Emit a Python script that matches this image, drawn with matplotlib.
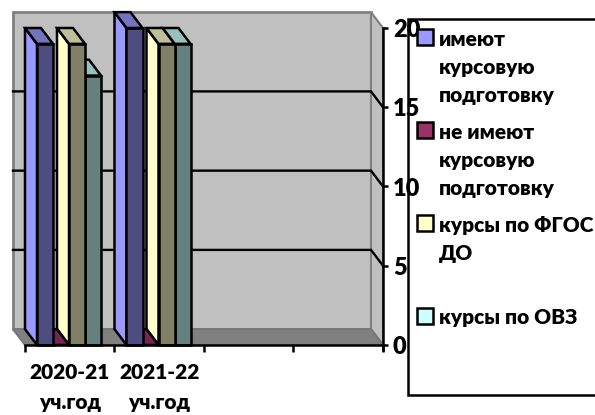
import matplotlib
matplotlib.use("Agg")
import matplotlib.pyplot as plt
from matplotlib.patches import Polygon, Rectangle

categories = ["2020-21\nуч.год", "2021-22\nуч.год"]
series_names = ["имеют\nкурсовую\nподготовку", "не имеют\nкурсовую\nподготовку",
                "курсы по ФГОС\nДО", "курсы по ОВЗ"]
has_training = [19, 20]
no_training = [0, 0]
fgos = [19, 19]
ovz = [17, 19]
series = [has_training, no_training, fgos, ovz]
yticks = [0, 5, 10, 15, 20]
left_c = ["#9999FF", "#993366", "#FFFFCC", "#CCFFFF"]
top_c = ["#7373BF", "#732650", "#BFBF99", "#99BFBF"]
front_c = ["#4D4D80", "#4D1A33", "#808066", "#668080"]

plt.rcParams["font.family"] = ["Lato", "DejaVu Sans"]
plt.rcParams["font.weight"] = "heavy"
W, H = 595, 415
fig = plt.figure(figsize=(W / 100, H / 100), dpi=100)
ax = fig.add_axes([25 / W, (H - 345) / H, 358 / W, 317 / H])
ax.patch.set_alpha(0)
ax.set_xlim(0, 4)
ax.set_ylim(0, 20)
DX = -12 / 89.5
DY = 1.0
LW = 1.8


def poly(pts, fc, ec="black", lw=LW, z=2):
    ax.add_patch(Polygon(pts, closed=True, fc=fc, ec=ec, lw=lw, zorder=z,
                         clip_on=False, joinstyle="miter"))


# walls and floor
poly([(DX, DY), (4 + DX, DY), (4 + DX, 20 + DY), (DX, 20 + DY)], "#C0C0C0", "#808080", 2)
poly([(4 + DX, DY), (4, 0), (4, 20), (4 + DX, 20 + DY)], "#C0C0C0", "#808080", 1.5)
poly([(DX, DY), (4 + DX, DY), (4, 0), (0, 0)], "#808080", "#777777", 1.5)
for v in yticks[1:-1]:
    ax.plot([DX, 4 + DX, 4], [v + DY, v + DY, v], color="black", lw=1.7, zorder=2.5,
            clip_on=False, solid_joinstyle="miter")

# bars, painted right to left so that nearer faces cover the others
BW = 16 / 89.5
OFF = 12 / 89.5
for c in range(len(categories)):
    for s in range(len(series) - 1, -1, -1):
        x0 = c + OFF + s * BW
        x1 = x0 + BW
        v = series[s][c]
        z = 3 + c + (3 - s) * 0.1
        if v > 0:
            poly([(x0, 0), (x0 + DX, DY), (x0 + DX, v + DY), (x0, v)], left_c[s], z=z)
            poly([(x0, 0), (x1, 0), (x1, v), (x0, v)], front_c[s], z=z)
        poly([(x0, v), (x1, v), (x1 + DX, v + DY), (x0 + DX, v + DY)], top_c[s], z=z)

# axes
for k in ("left", "top"):
    ax.spines[k].set_visible(False)
ax.spines["right"].set_linewidth(1.8)
ax.spines["right"].set_bounds(-0.3, 20)
ax.spines["bottom"].set_linewidth(1.8)
ax.spines["bottom"].set_zorder(8)
ax.spines["right"].set_zorder(8)
ax.yaxis.tick_right()
ax.set_yticks(yticks)
ax.tick_params(axis="y", length=3.6, width=1.8, pad=3.6, labelsize=17)
ax.set_xticks(range(5))
ax.set_xticklabels([])
ax.tick_params(axis="x", which="major", length=5, width=1.8)
ax.set_xticks([0.5, 1.5], minor=True)
ax.set_xticklabels(categories, minor=True, fontsize=15, linespacing=1.68)
ax.tick_params(axis="x", which="minor", length=0, pad=13)

# legend
fig.add_artist(Rectangle((408 / W, (H - 395) / H), 200 / W, 375.5 / H, fc="white", ec="black",
                         lw=1.8, transform=fig.transFigure, zorder=-1))
swatch_y = [29, 122, 215, 308]
text_y = [30, 123, 216, 308]
for i, name in enumerate(series_names):
    fig.add_artist(Rectangle((417 / W, (H - swatch_y[i] - 16) / H), 15.5 / W, 16 / H,
                             fc=left_c[i], ec="black", lw=1.8, transform=fig.transFigure, zorder=5))
    fig.text(439 / W, (H - text_y[i]) / H, name, fontsize=15, va="top", ha="left",
             linespacing=1.55, zorder=6)

fig.savefig("out.png", dpi=100)
